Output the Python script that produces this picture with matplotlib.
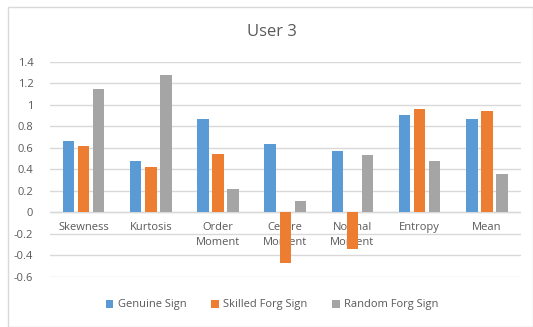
import numpy as np
import matplotlib.pyplot as plt
from matplotlib.patches import Rectangle

# Feature values per signature class
features = ['Skewness', 'Kurtosis', 'Order\nMoment', 'Centre\nMoment',
            'Normal\nMoment', 'Entropy', 'Mean']
genuine = [0.665, 0.48, 0.87, 0.63, 0.57, 0.90, 0.864]
skilled = [0.62, 0.42, 0.54, -0.47, -0.345, 0.957, 0.94]
random_forg = [1.143, 1.28, 0.22, 0.10, 0.53, 0.48, 0.356]
series_names = ['Genuine Sign', 'Skilled Forg Sign', 'Random Forg Sign']
yticks = [-0.6, -0.4, -0.2, 0, 0.2, 0.4, 0.6, 0.8, 1, 1.2, 1.4]

colors = ['#5B9BD5', '#ED7D31', '#A5A5A5']
txt = '#595959'
plt.rcParams['font.family'] = ['Open Sans', 'DejaVu Sans']

W, H = 533, 327
fig = plt.figure(figsize=(W / 100, H / 100), dpi=100)
ax = fig.add_axes([50 / W, 1 - 276.7 / H, 470.5 / W, (276.7 - 61.7) / H])

x = np.arange(len(features))
step = 0.224
bw = 0.17
for i, (vals, c, name) in enumerate(zip([genuine, skilled, random_forg], colors, series_names)):
    ax.bar(x + (i - 1) * step, vals, bw, color=c, label=name, zorder=3)

ax.set_xlim(-0.5, len(features) - 0.5)
ax.set_ylim(-0.6, 1.4)
ax.set_yticks(yticks)
ax.set_yticklabels(['%g' % v for v in yticks], color=txt, fontsize=8)
ax.yaxis.grid(True, color='#D9D9D9', linewidth=1, zorder=0)
ax.tick_params(axis='y', length=0, pad=12)
ax.set_xticks([])
for s in ax.spines.values():
    s.set_visible(False)
ax.axhline(0, color='#D9D9D9', linewidth=1, zorder=1)

# category labels sit under the zero line, behind the bars
for xi, lab in zip(x, features):
    ax.text(xi, -0.095, lab, ha='center', va='top', color=txt, fontsize=8,
            linespacing=1.45, zorder=2)

fig.text(272 / W, 1 - 32 / H, 'User 3', ha='center', va='center',
         color=txt, fontsize=12)

leg = fig.legend(loc='center', bbox_to_anchor=(272 / W, 1 - 305 / H), ncol=3,
                 frameon=False, fontsize=8, handlelength=0.7, handleheight=0.7,
                 columnspacing=2.2, handletextpad=0.4)
for t in leg.get_texts():
    t.set_color(txt)

# outer chart frame
fig.patches.append(Rectangle((7.5 / W, 0), (W - 8) / W, 1 - 6.5 / H,
                             transform=fig.transFigure, fill=False,
                             edgecolor='#D9D9D9', linewidth=1))

fig.savefig('out.png', dpi=100)
